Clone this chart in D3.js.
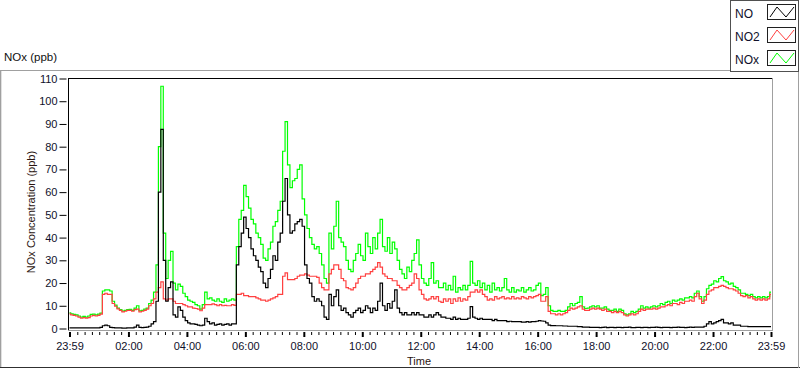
<!DOCTYPE html>
<html>
<head>
<meta charset="utf-8">
<script src="https://cdn.jsdelivr.net/npm/d3@7/dist/d3.min.js"></script>
<style>
  html, body { margin: 0; padding: 0; background: #ffffff; }
  svg { display: block; }
  text { font-family: "Liberation Sans", Arial, sans-serif; }
</style>
</head>
<body>
<svg id="chart" width="800" height="369"></svg>
<script>
// ---------------- DATA ----------------
// Samples every 5 minutes, starting 23:59 of the previous day and ending 23:59.
const sampleStartMinute = -1;
const sampleStepMinutes = 5;

const seriesNames = ["NO", "NO2", "NOx"];

const noValues = [
  0.3,0.3,0.3,0.3,0.3,0.3,0.3,0.3,0.3,0.3,0.3,0.3,0.3,0.5,
  1.2,1.5,1.2,0.5,0.4,0.3,0.3,0.3,0.2,0.2,0.3,0.3,0.3,0.6,1.5,0.5,0.4,
  0.5,0.6,1,2,3,12,60,87.6,30,12,18,20.5,6,5,9.5,8,5,3.5,2.5,2,2,1.8,1.5,1.2,1.5,4.5,3,2,2.5,1.5,1.8,2,1.5,1.8,2,1.5,2,2,28,36,42,
  49,44,40,35,32,30,27,25,20,18,
  22,26,32,30,38,42,56,66,50,42,
  43,46,47,48,45,28,22,20,14,12,
  13,12,10,5,4,15,10,14,17,10,
  8,9,7,6,5,7,8,9,7,8,
  10,9,7,9,8,12,20,10,8,11,
  9,12,17,9,
  7,6,7,6,6,7,6,7,6,6,
  5,5,6,5,6,7,6,5,5,4.5,
  4.5,4,5,4,4.5,4,4,4,4.5,9.6,
  5,4.5,4,4.5,4,4,4,4,3.5,4,
  3.5,3.5,3.5,3.5,3,3.2,3,3,3,3,
  2.8,2.8,3,2.8,3,3,3.2,3.5,3.3,3.2,
  2.5,
  1.5,1.3,1.3,1.2,1.2,1.2,1.1,1.1,1,1,
  1,1,0.8,0.8,0.6,0.6,0.6,0.5,0.5,0.5,
  0.5,0.4,0.5,0.6,0.4,0.5,0.5,0.4,0.5,0.5,
  0.4,0.5,0.5,0.6,0.4,0.4,0.5,0.5,0.4,0.5,
  0.5,0.4,0.5,0.5,0.6,0.5,0.4,0.5,0.5,0.5,
  0.4,0.5,0.5,0.6,0.5,0.5,0.4,0.5,0.6,0.5,
  0.6,0.6,0.6,0.6,
  1,2,3,2,2.5,3,3.5,4,2.5,2.5,2,2.5,1.5,1.5,1.5,1,1,1,
  0.8,0.8,0.8,0.8,0.8,0.8,0.8,0.8,0.8,0.8
];

const no2Values = [
  6.4,6,5.8,5.5,5,4.5,4.8,4.5,4.8,5.5,5.8,5.5,5.8,6.3,
  15,15.5,15,15,11,9.8,8.6,8,7.3,7.6,8,8,7.6,8.3,8.5,7.3,7.6,
  8,8.5,10,11,13,16,18,20.5,13,12.5,13,13,12,11,11,11,10.5,10,9.5,9.5,9,8.8,8.5,7.8,9,10.5,10.5,10.5,10.8,10.5,10,10.5,10,10.2,10,10,10.5,10.2,15,15,15.5,
  14.5,14.5,14,14,14,13.5,13,12.5,12.5,12,
  12.5,13,13.5,14,15,15,23,24.5,21.5,21.5,
  21.5,22,23,23.5,23.5,24,23.5,23,23,23,
  22.5,20,18,17,17,24,26,28,28,26,
  22,21,18,17.5,17,18,20,22,23,23,
  24,24,25,26,27,29,27,24,23,22,
  22,21,21,19,
  18,17,17,18,19,20,24,22,17,15,
  13,12.5,13,14,13,14,12,11.5,13,12,
  13,11,13,12,13.5,12,13,12.5,14,16,
  16,17,16,17,15,14,12.5,13,12.5,14,
  13,13.5,14,13,13.5,13,14,13,13.5,13,
  14,13.5,13,14,13.5,14,14.5,15,12,12,
  14,
  7.5,6.5,6.5,6,6.5,6,6.5,7,8,9,
  8.5,9,9.5,10,8.5,8,8,8.5,9,8.5,
  9,8.5,8,8.5,7.5,7.5,7,7.5,7,7.5,
  7,6,5.5,6,6.5,6,6.5,7.5,8.5,8,
  8.5,8.5,8.5,9,8.5,9,9.5,9.5,10,10.5,
  10,11,11,10.5,11.5,11,12,12,12.5,12,
  14,15.5,13,11,12.5,15,16.5,17,18,18,
  18.5,19,18.5,18,17.5,17.5,17,16.5,15.5,14.5,
  14,14.5,13.5,14,13,12.5,13,12.5,13,12.5,
  13,15
];

const noxValues = [
  6.9,6.5,6.2,6,5.5,5,5.3,5,5.5,6.2,6.3,6,6.3,6.8,
  16.5,17,17,16.5,12,10.3,9,8.3,7.7,8,8.3,8.4,8,9,10,7.8,8,
  8.5,9,11,12.5,16,28,80,106.6,42,22,30,33.9,20,17,19.5,18.5,15.5,14,12.5,12,11.5,10.5,10,8.5,10.5,16,13,13.5,12.5,12,13,12,11.5,13,12,12.5,13,12.5,36,48,52,
  63,58,53,48,46,42,40,37,31,30,
  35,38,45,47,52,56,78,91,72,62,
  65,66,70,72,57,50,44,40,37,35,
  36,33,28,22,20,42,35,45,56,40,
  38,36,30,26,25,30,33,37,32,30,
  42,36,33,40,35,42,48,36,34,40,
  33,38,35,30,
  26,24,22,27,25,30,33,39,28,22,
  20,19,22,29,20,21,18,18,20,17,
  19,17,23,16,18,17,19,17,19,29.5,
  20,19,21,18,20,17,19,16,20,17,
  18,16.5,18,22,17,16,18,16,17,16.5,
  18,16,17,18,16.5,17,19,20,14.5,15,
  18,
  10,8,7.5,7.5,8,7.5,7.5,8,9.5,11,
  10,11,11.5,14,9.5,8.8,9,9.5,10,9.5,
  10,9,9,9.5,8.5,8,8,8.5,7.5,8.5,
  8,6.5,6,6.5,7.5,7,7.5,8.5,10,9,
  9.5,9,9.5,10,9.5,10,11,10.5,11.5,12,
  11,12.5,12,12.5,13,12.5,13.5,13.5,14,13.5,
  15.5,16.5,14,12,14,17.5,19,19.5,21,20.5,
  22,22.8,21,20.5,19.5,20,18.5,18,17,15.5,
  15.5,15,14.5,15,14,13.5,14,13.5,14,13.5,
  14,16
];

// Axis ticks
const xTickMinutes = [-1, 120, 240, 360, 480, 600, 720, 840, 960, 1080, 1200, 1320, 1439];
const xTickLabels = ["23:59","02:00","04:00","06:00","08:00","10:00","12:00","14:00","16:00","18:00","20:00","22:00","23:59"];
const yTickValues = [0,10,20,30,40,50,60,70,80,90,100,110];

// ---------------- DRAWING ----------------
const svg = d3.select("#chart");
const plot = { left: 68, right: 772, top: 78, bottom: 330 };

const x = d3.scaleLinear().domain([-1, 1439]).range([69.5, 771]);
const y = d3.scaleLinear().domain([0, 110]).range([328.5, 78.5]);

const styleMap = {
  "NO":  { color: "#000000" },
  "NO2": { color: "#ff4040" },
  "NOx": { color: "#00ff00" }
};
const seriesData = { "NO": noValues, "NO2": no2Values, "NOx": noxValues };

// Outer panel
const panel = svg.append("g");
panel.append("line").attr("x1", 0).attr("x2", 730).attr("y1", 70.5).attr("y2", 70.5).attr("stroke", "#a0a0a0");
panel.append("line").attr("x1", 0.5).attr("x2", 0.5).attr("y1", 70).attr("y2", 367).attr("stroke", "#a0a0a0");
panel.append("line").attr("x1", 1.5).attr("x2", 1.5).attr("y1", 71).attr("y2", 367).attr("stroke", "#e0e0e0");
panel.append("line").attr("x1", 0).attr("x2", 800).attr("y1", 367.5).attr("y2", 367.5).attr("stroke", "#303030");
panel.append("line").attr("x1", 798.5).attr("x2", 798.5).attr("y1", 72).attr("y2", 368).attr("stroke", "#a0a0a0");

// Title above panel
svg.append("text").attr("x", 4).attr("y", 61).attr("font-size", 11.5).attr("fill", "#101010").text("NOx (ppb)");

// Plot frame background
svg.append("rect").attr("x", plot.left).attr("y", plot.top)
  .attr("width", plot.right - plot.left).attr("height", plot.bottom - plot.top).attr("fill", "#ffffff");

// Clip
svg.append("clipPath").attr("id", "clip").append("rect")
  .attr("x", plot.left + 1).attr("y", plot.top + 1)
  .attr("width", plot.right - plot.left - 1).attr("height", plot.bottom - plot.top - 1);

// Lines (stepped, like the instrument's sample-and-hold trace)
const lineGen = d3.line()
  .x((d, i) => x(sampleStartMinute + i * sampleStepMinutes))
  .y(d => y(d))
  .curve(d3.curveStep);

const linesG = svg.append("g").attr("clip-path", "url(#clip)");
["NOx", "NO2", "NO"].forEach(name => {
  linesG.append("path")
    .datum(seriesData[name])
    .attr("d", lineGen)
    .attr("fill", "none")
    .attr("stroke", styleMap[name].color)
    .attr("stroke-width", 1.2)
    .attr("stroke-linejoin", "miter");
});

// Frame lines
svg.append("line").attr("x1", plot.left).attr("x2", plot.right).attr("y1", plot.top + 0.5).attr("y2", plot.top + 0.5).attr("stroke", "#000");
svg.append("line").attr("x1", plot.left + 0.5).attr("x2", plot.left + 0.5).attr("y1", plot.top).attr("y2", plot.bottom).attr("stroke", "#000");
svg.append("line").attr("x1", plot.right + 0.5).attr("x2", plot.right + 0.5).attr("y1", plot.top).attr("y2", plot.bottom + 1).attr("stroke", "#a0a0a0");
svg.append("line").attr("x1", plot.left).attr("x2", plot.right + 1).attr("y1", plot.bottom + 0.5).attr("y2", plot.bottom + 0.5).attr("stroke", "#a0a0a0");

// Y axis
const yAxis = d3.axisLeft(y).tickValues(yTickValues).tickSize(7).tickPadding(2);
const yG = svg.append("g").attr("transform", "translate(66.5,0)").call(yAxis);
yG.select(".domain").remove();
yG.selectAll(".tick line").attr("stroke", "#000");
yG.selectAll(".tick text").attr("font-size", 11).attr("fill", "#10102a")
  .attr("font-family", "Liberation Sans, Arial, sans-serif");

// X axis: minor ticks
const minorMinutes = d3.range(15, 1440, 15).filter(m => m % 120 !== 0);
const xMinor = d3.axisBottom(x).tickValues(minorMinutes).tickSize(3).tickFormat("");
const xmG = svg.append("g").attr("transform", "translate(0,332)").call(xMinor);
xmG.select(".domain").remove();
xmG.selectAll(".tick line").attr("stroke", "#000");

// X axis: major ticks
const xAxis = d3.axisBottom(x).tickValues(xTickMinutes)
  .tickFormat((d, i) => xTickLabels[i]).tickSize(5).tickPadding(5);
const xG = svg.append("g").attr("transform", "translate(0,332)").call(xAxis);
xG.select(".domain").remove();
xG.selectAll(".tick line").attr("stroke", "#000").attr("stroke-width", 2);
xG.selectAll(".tick text").attr("font-size", 11).attr("fill", "#10102a")
  .attr("font-family", "Liberation Sans, Arial, sans-serif");

// Axis titles
svg.append("text")
  .attr("transform", "translate(35,212) rotate(-90)")
  .attr("text-anchor", "middle").attr("font-size", 11).attr("fill", "#2a1410")
  .text("NOx Concentration (ppb)");
svg.append("text")
  .attr("x", 419).attr("y", 365).attr("text-anchor", "middle")
  .attr("font-size", 11).attr("fill", "#2a1410").text("Time");

// Legend
const leg = svg.append("g");
leg.append("rect").attr("x", 730.5).attr("y", 0.5).attr("width", 68).attr("height", 71)
  .attr("fill", "#ffffff").attr("stroke", "#505050");
const legendTop = [4, 27, 50];
seriesNames.forEach((name, i) => {
  const ty = legendTop[i];
  leg.append("text").attr("x", 735).attr("y", ty + 14).attr("font-size", 12)
    .attr("fill", "#10102a").text(name);
  leg.append("rect").attr("x", 767.5).attr("y", ty + 0.5).attr("width", 28).attr("height", 15)
    .attr("fill", "#ffffff").attr("stroke", "#202020");
  const pts = [[770, ty + 13], [777, ty + 3], [786, ty + 13], [794, ty + 3]];
  leg.append("path").attr("d", d3.line()(pts)).attr("fill", "none")
    .attr("stroke", styleMap[name].color).attr("stroke-width", 1);
});
</script>
</body>
</html>
